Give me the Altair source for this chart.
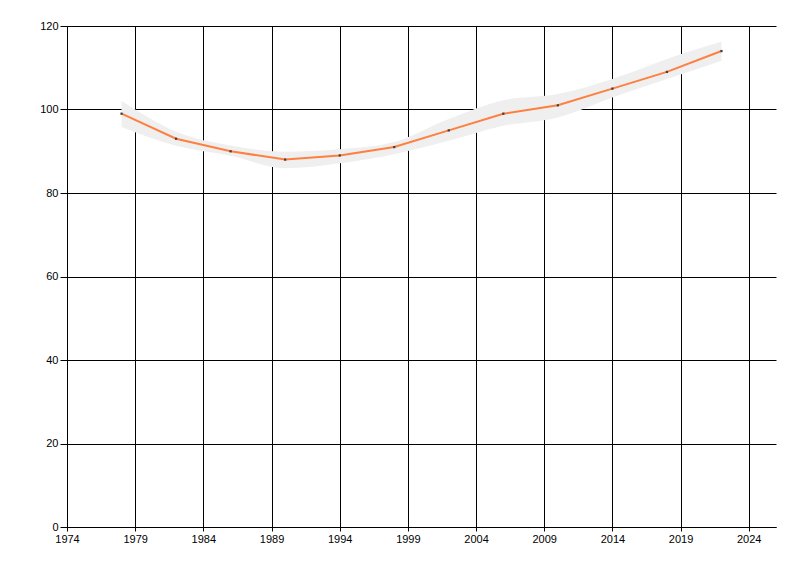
import altair as alt
import pandas as pd

# values
years = [1978, 1982, 1986, 1990, 1994, 1998, 2002, 2006, 2010, 2014, 2018, 2022]
values = [99, 93, 90, 88, 89, 91, 95, 99, 101, 105, 109, 114]
upper = [102.1, 94.7, 91.4, 89.9, 90.5, 92.2, 97.7, 102.2, 103.7, 107.3, 112.1, 116.2]
lower = [95.8, 91.3, 88.9, 85.9, 87.1, 89.3, 92.5, 96.1, 98.1, 102.9, 107.3, 111.7]

x_ticks = [1974, 1979, 1984, 1989, 1994, 1999, 2004, 2009, 2014, 2019, 2024]
y_ticks = [0, 20, 40, 60, 80, 100, 120]

df = pd.DataFrame({'year': years, 'value': values, 'upper': upper, 'lower': lower})

x_enc = alt.X('year:Q',
              scale=alt.Scale(domain=[1974, 2026], nice=False, zero=False),
              axis=alt.Axis(values=x_ticks, format='d', title=None, grid=True,
                            gridColor='black', gridOpacity=1, domainColor='black',
                            tickColor='black', tickSize=4, labelColor='black',
                            labelFont='Liberation Sans', labelFontSize=11,
                            labelPadding=2, labelFlush=False))
y_scale = alt.Scale(domain=[0, 120], nice=False)
y_axis = alt.Axis(values=y_ticks, title=None, grid=True, gridColor='black',
                  gridOpacity=1, domainColor='black', tickColor='black',
                  tickSize=7, labelColor='black', labelFont='Liberation Sans',
                  labelFontSize=11, labelPadding=2)

band = alt.Chart(df).mark_area(color='#efefef', interpolate='monotone').encode(
    x=x_enc,
    y=alt.Y('upper:Q', scale=y_scale, axis=y_axis),
    y2='lower:Q',
)

line = alt.Chart(df).mark_line(color='#ff7f3f', strokeWidth=2).encode(
    x='year:Q',
    y='value:Q',
)

points = alt.Chart(df).mark_square(color='#404040', size=5, opacity=1).encode(
    x='year:Q',
    y='value:Q',
)

chart = (band + line + points).properties(
    width=709,
    height=501,
    autosize=alt.AutoSizeParams(type='none'),
    padding={'left': 59, 'top': 18, 'right': 10, 'bottom': 28},
).configure_view(stroke=None)

chart.save("out.html", embed_options={"renderer": "svg", "actions": False})
